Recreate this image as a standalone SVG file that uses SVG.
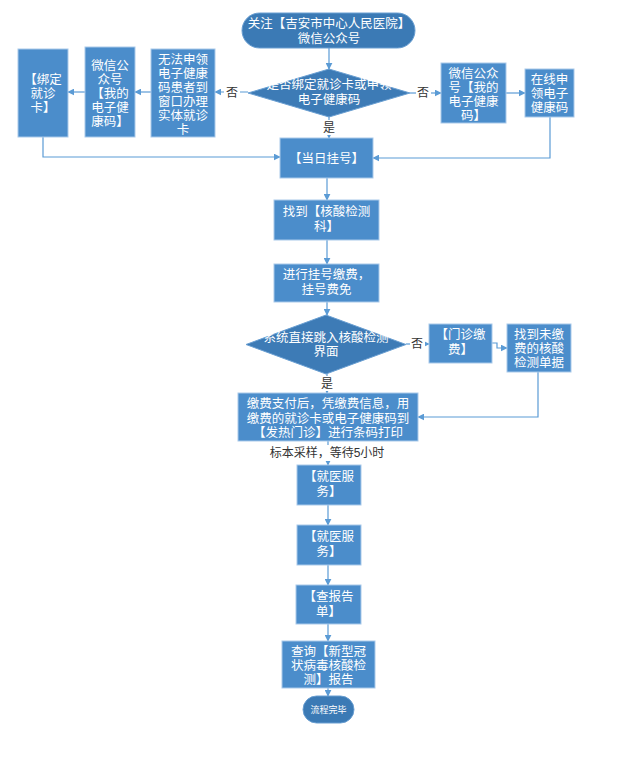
<svg xmlns="http://www.w3.org/2000/svg" width="640" height="757" viewBox="0 0 640 757">
<defs>
<marker id="arr" viewBox="0 0 10 10" refX="9" refY="5" markerWidth="7" markerHeight="7" markerUnits="userSpaceOnUse" orient="auto">
<path d="M0,0 L10,5 L0,10 z" fill="#5b9bd5"/>
</marker>
<style>
.box{fill:#4b8dcb;stroke:#a9c9ea;stroke-width:1}
.term{fill:#3b7ab5;stroke:#6a9fd2;stroke-width:1}
.dia{fill:#3d7bb6;stroke:#6a9fd2;stroke-width:1}
.t{font-family:"Liberation Sans","Noto Sans CJK SC",sans-serif;font-size:12.5px;fill:#ffffff;text-anchor:middle}
.lbl{font-family:"Liberation Sans","Noto Sans CJK SC",sans-serif;font-size:12px;fill:#333333;text-anchor:middle}
.c{fill:none;stroke:#5b9bd5;stroke-width:1.2;marker-end:url(#arr)}
</style>
</defs>
<rect width="640" height="757" fill="#ffffff"/>
<g id="connectors">
<path class="c" d="M329,48 V69"/>
<path class="c" d="M329,117 V138"/>
<path class="c" d="M248,92 H215"/>
<path class="c" d="M151,92 H135"/>
<path class="c" d="M85,92 H68"/>
<path class="c" d="M43,137 V157 H280"/>
<path class="c" d="M410,93 H441"/>
<path class="c" d="M506,93 H525"/>
<path class="c" d="M550,117 V158 H373"/>
<path class="c" d="M327,178 V200"/>
<path class="c" d="M327,240 V264"/>
<path class="c" d="M327,302 V315"/>
<path class="c" d="M327,374 V393"/>
<path class="c" d="M406,344 H429"/>
<path class="c" d="M492,343 H497 V348 H507"/>
<path class="c" d="M538,372 V417 H418"/>
<path class="c" d="M328,441 V465"/>
<path class="c" d="M328,505 V525"/>
<path class="c" d="M328,565 V585"/>
<path class="c" d="M328,624 V641"/>
<path class="c" d="M328,688 V696"/>
<rect x="224" y="84" width="16" height="16" fill="#ffffff"/>
<text class="lbl" x="232" y="97">否</text>
<rect x="416" y="85" width="15" height="16" fill="#ffffff"/>
<text class="lbl" x="423" y="97">否</text>
<rect x="321" y="120" width="16" height="15" fill="#ffffff"/>
<text class="lbl" x="329" y="132">是</text>
<rect x="410" y="336" width="15" height="16" fill="#ffffff"/>
<text class="lbl" x="417" y="348">否</text>
<rect x="319" y="376" width="16" height="15" fill="#ffffff"/>
<text class="lbl" x="327" y="388">是</text>
<rect x="266" y="445" width="124" height="16" fill="#ffffff"/>
<text class="lbl" x="327" y="457">标本采样，等待5小时</text>
</g>
<g id="start">
<rect class="term" x="242" y="13" width="173" height="35" rx="17.5"/>
<text class="t" x="329" y="28"><tspan x="329">关注【吉安市中心人民医院】</tspan><tspan x="329" dy="15">微信公众号</tspan></text>
</g>
<g id="decision1">
<polygon class="dia" points="329,69 410,93 329,117 248,93"/>
<text class="t" x="329" y="89"><tspan x="329">是否绑定就诊卡或申领</tspan><tspan x="329" dy="15">电子健康码</tspan></text>
</g>
<g id="no-code">
<rect class="box" x="151" y="49" width="64" height="88"/>
<text class="t" x="183" y="64"><tspan x="183">无法申领</tspan><tspan x="183" dy="14">电子健康</tspan><tspan x="183" dy="14">码患者到</tspan><tspan x="183" dy="14">窗口办理</tspan><tspan x="183" dy="14">实体就诊</tspan><tspan x="183" dy="14">卡</tspan></text>
</g>
<g id="wechat-left">
<rect class="box" x="85" y="47" width="50" height="90"/>
<text class="t" x="110" y="70"><tspan x="110">微信公</tspan><tspan x="110" dy="14">众号</tspan><tspan x="110" dy="14">【我的</tspan><tspan x="110" dy="14">电子健</tspan><tspan x="110" dy="14">康码】</tspan></text>
</g>
<g id="bind-card">
<rect class="box" x="18" y="49" width="50" height="88"/>
<text class="t" x="43" y="84"><tspan x="43">【绑定</tspan><tspan x="43" dy="14">就诊</tspan><tspan x="43" dy="14">卡】</tspan></text>
</g>
<g id="wechat-right">
<rect class="box" x="441" y="63" width="65" height="60"/>
<text class="t" x="473.5" y="78"><tspan x="473.5">微信公众</tspan><tspan x="473.5" dy="14">号【我的</tspan><tspan x="473.5" dy="14">电子健康</tspan><tspan x="473.5" dy="14">码】</tspan></text>
</g>
<g id="apply-online">
<rect class="box" x="525" y="69" width="49" height="48"/>
<text class="t" x="549.5" y="84"><tspan x="549.5">在线申</tspan><tspan x="549.5" dy="14">领电子</tspan><tspan x="549.5" dy="14">健康码</tspan></text>
</g>
<g id="register">
<rect class="box" x="280" y="138" width="93" height="40"/>
<text class="t" x="326.5" y="163">【当日挂号】</text>
</g>
<g id="find-dept">
<rect class="box" x="274" y="200" width="105" height="40"/>
<text class="t" x="326.5" y="216"><tspan x="326.5">找到【核酸检测</tspan><tspan x="326.5" dy="15">科】</tspan></text>
</g>
<g id="pay-reg">
<rect class="box" x="274" y="264" width="105" height="38"/>
<text class="t" x="326.5" y="279"><tspan x="326.5">进行挂号缴费，</tspan><tspan x="326.5" dy="15">挂号费免</tspan></text>
</g>
<g id="decision2">
<polygon class="dia" points="326,315 406,344.5 326,374 246,344.5"/>
<text class="t" x="326" y="342"><tspan x="326">系统直接跳入核酸检测</tspan><tspan x="326" dy="14">界面</tspan></text>
</g>
<g id="clinic-pay">
<rect class="box" x="429" y="324" width="63" height="39"/>
<text class="t" x="460.5" y="339"><tspan x="460.5">【门诊缴</tspan><tspan x="460.5" dy="15">费】</tspan></text>
</g>
<g id="find-bill">
<rect class="box" x="507" y="324" width="64" height="48"/>
<text class="t" x="539" y="339"><tspan x="539">找到未缴</tspan><tspan x="539" dy="14">费的核酸</tspan><tspan x="539" dy="14">检测单据</tspan></text>
</g>
<g id="print">
<rect class="box" x="238" y="393" width="180" height="48"/>
<text class="t" x="328" y="408"><tspan x="328">缴费支付后，凭缴费信息，用</tspan><tspan x="328" dy="14.5">缴费的就诊卡或电子健康码到</tspan><tspan x="328" dy="14.5">【发热门诊】进行条码打印</tspan></text>
</g>
<g id="service1">
<rect class="box" x="297" y="465" width="64" height="40"/>
<text class="t" x="329" y="481"><tspan x="329">【就医服</tspan><tspan x="329" dy="15">务】</tspan></text>
</g>
<g id="service2">
<rect class="box" x="297" y="525" width="64" height="40"/>
<text class="t" x="329" y="541"><tspan x="329">【就医服</tspan><tspan x="329" dy="15">务】</tspan></text>
</g>
<g id="report">
<rect class="box" x="296" y="585" width="65" height="39"/>
<text class="t" x="328.5" y="601"><tspan x="328.5">【查报告</tspan><tspan x="328.5" dy="15">单】</tspan></text>
</g>
<g id="query">
<rect class="box" x="282" y="641" width="93" height="47"/>
<text class="t" x="328.5" y="656"><tspan x="328.5">查询【新型冠</tspan><tspan x="328.5" dy="14">状病毒核酸检</tspan><tspan x="328.5" dy="14">测】报告</tspan></text>
</g>
<g id="end">
<rect class="term" x="303" y="696" width="51" height="27" rx="13.5"/>
<text class="t" x="328.5" y="713" style="font-size:9px">流程完毕</text>
</g>
</svg>
